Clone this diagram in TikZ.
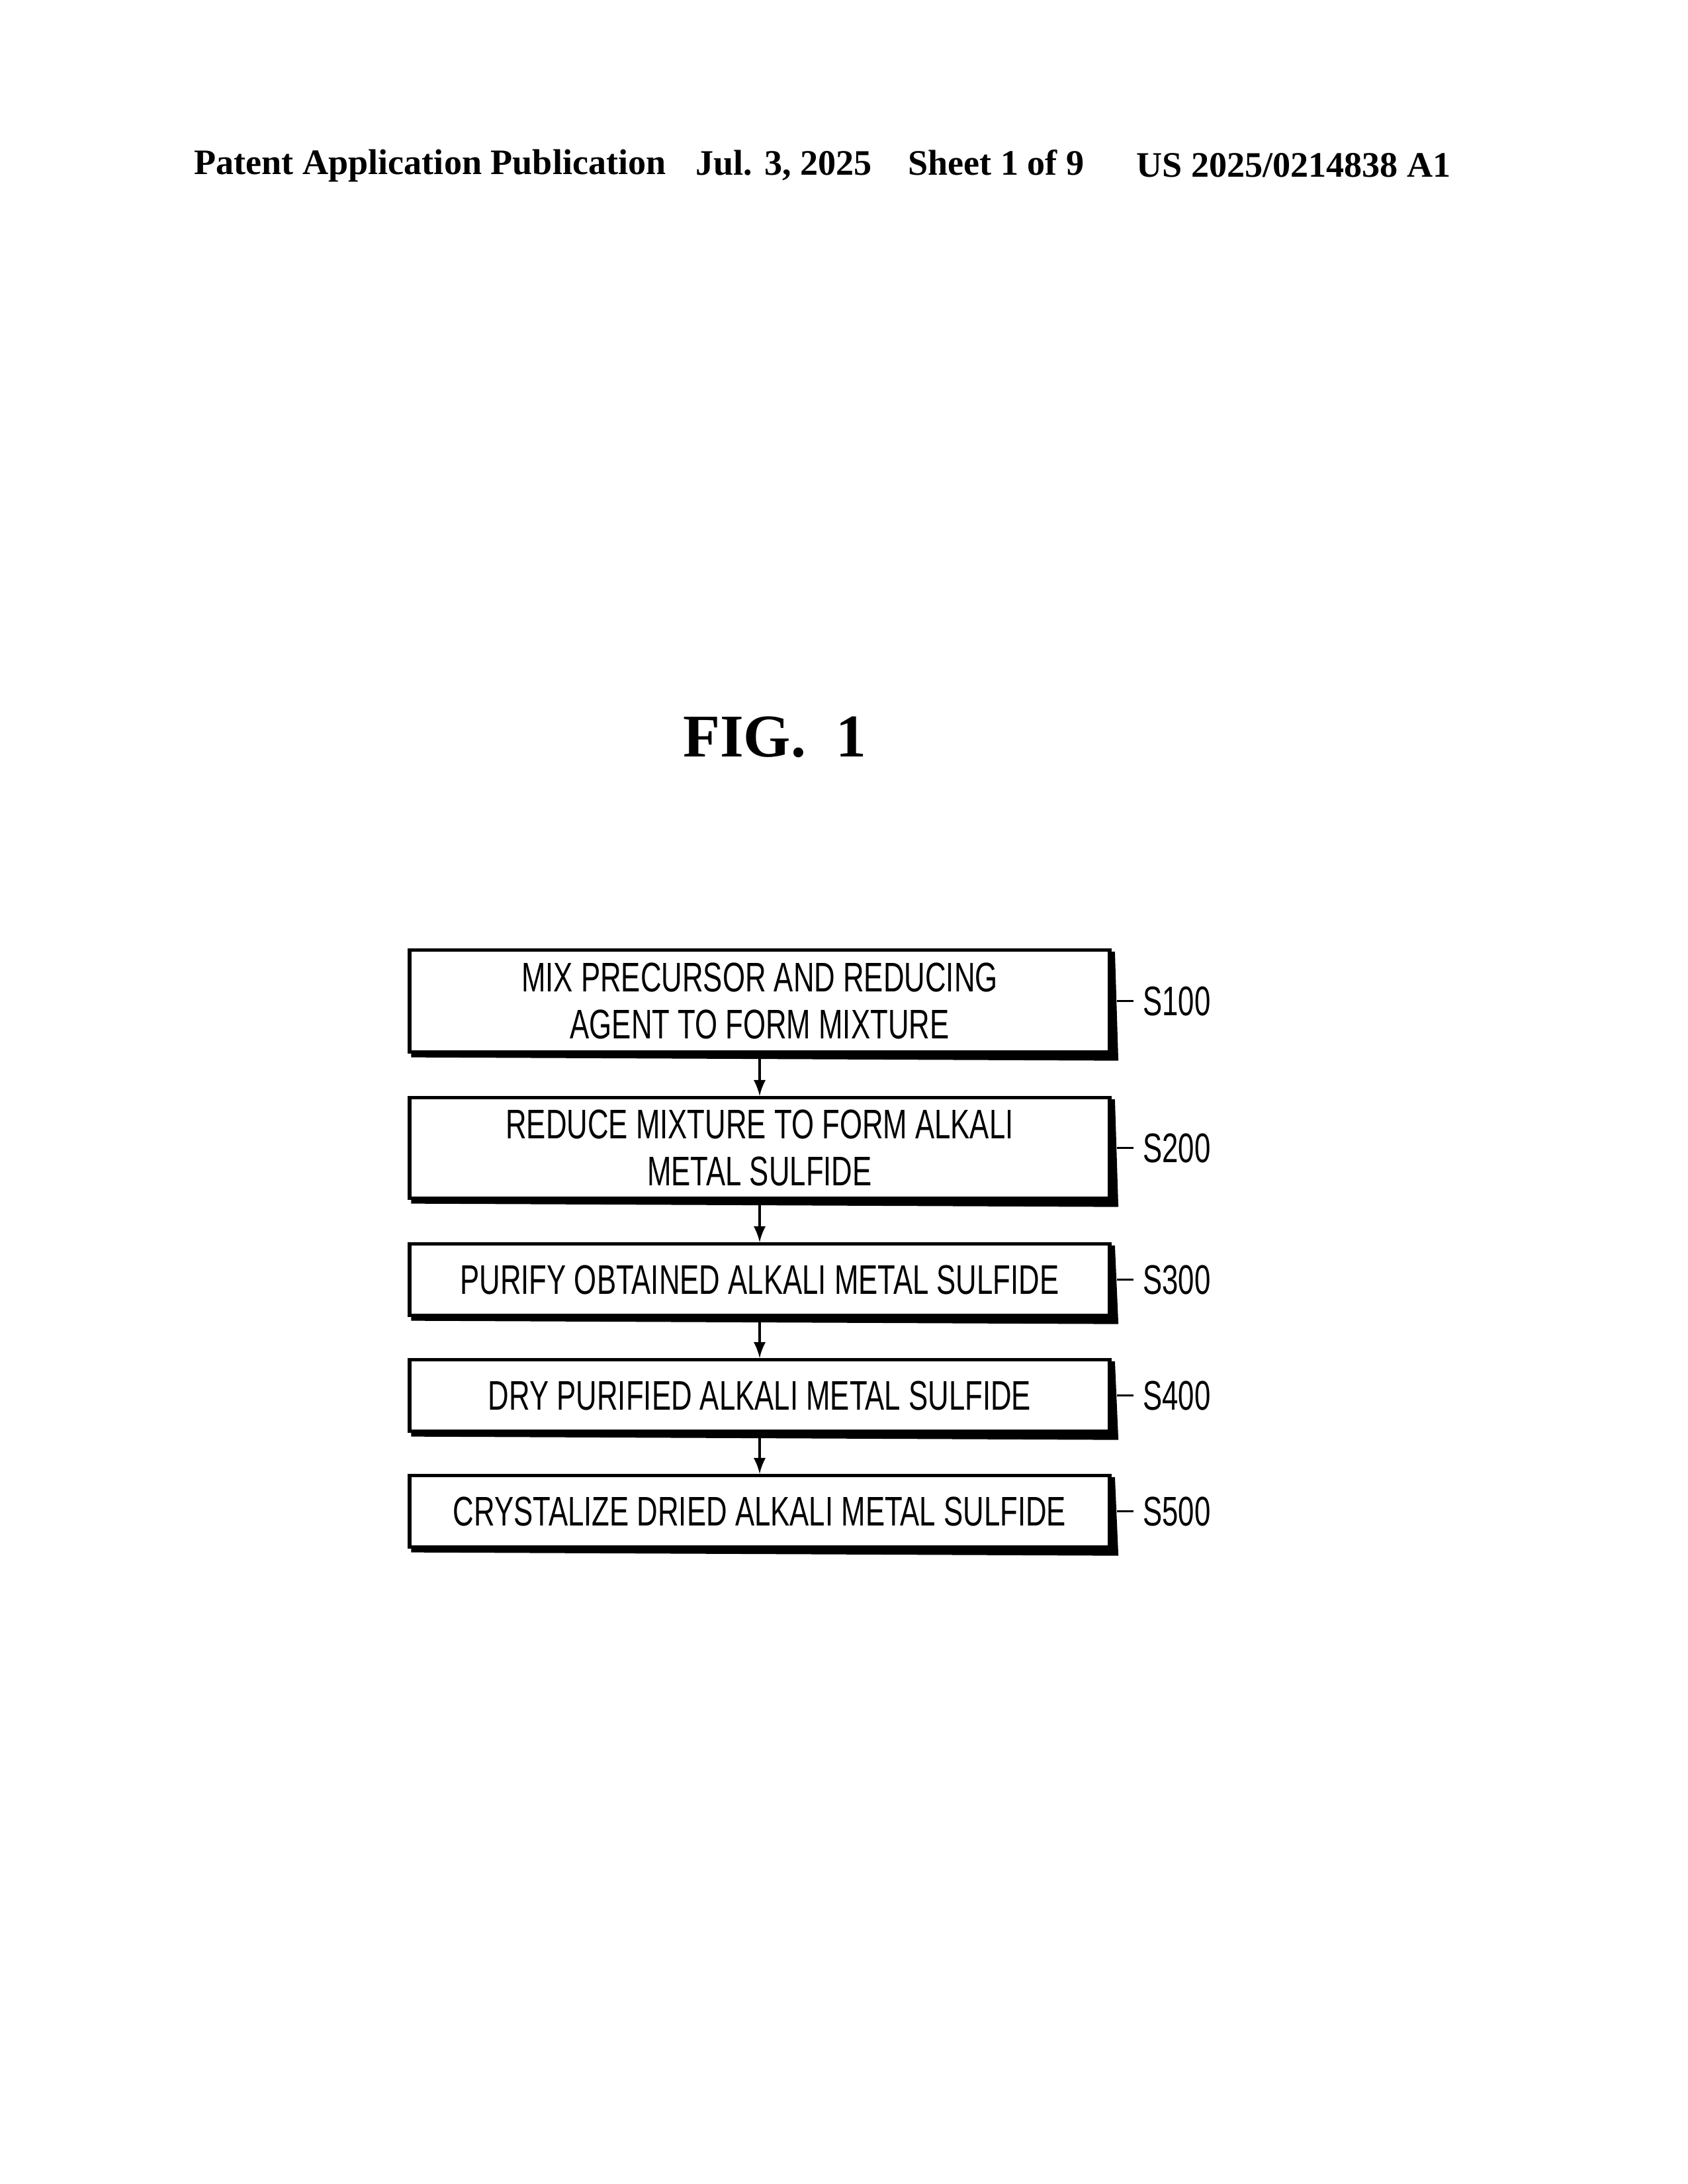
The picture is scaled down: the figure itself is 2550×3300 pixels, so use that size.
\documentclass[tikz,border=0pt]{standalone}
\usepackage{fontspec}
\usepackage{graphicx}
\setmainfont{Liberation Serif}
\newfontfamily\boxfont{Liberation Sans}
\newcommand{\sq}[1]{\scalebox{0.7}[1]{#1}}
\begin{document}
\begin{tikzpicture}[x=0.24pt,y=-0.24pt,
  stepbox/.style={draw,line width=1.3pt,minimum width=1058*0.24pt,anchor=north,inner sep=0pt,font=\boxfont\fontsize{15}{17}\selectfont,align=center},
  lab/.style={font=\boxfont\fontsize{15}{17}\selectfont,anchor=west},
  arr/.style={-latex,line width=1pt}]
\useasboundingbox (0,0) rectangle (2550,3300);
\node[font=\bfseries\fontsize{13}{15}\selectfont] (h1) at (650,250) {Patent Application Publication};
\node[font=\bfseries\fontsize{13}{15}\selectfont] (h2) at (1345,250) {Jul. 3, 2025\quad Sheet 1 of 9};
\node[font=\bfseries\fontsize{13}{15}\selectfont] (h3) at (1955,250) {US 2025/0214838 A1};
\node[font=\bfseries\fontsize{22}{26}\selectfont] (fig) at (1171,1114) {FIG.\ \ 1};
\node[stepbox,minimum height=154*0.24pt] (b1) at (1148,1433) {\sq{MIX PRECURSOR AND REDUCING}\\\sq{AGENT TO FORM MIXTURE}};
\node[stepbox,minimum height=152*0.24pt] (b2) at (1148,1656) {\sq{REDUCE MIXTURE TO FORM ALKALI}\\\sq{METAL SULFIDE}};
\node[stepbox,minimum height=108*0.24pt] (b3) at (1148,1877) {\sq{PURIFY OBTAINED ALKALI METAL SULFIDE}};
\node[stepbox,minimum height=108*0.24pt] (b4) at (1148,2052) {\sq{DRY PURIFIED ALKALI METAL SULFIDE}};
\node[stepbox,minimum height=108*0.24pt] (b5) at (1148,2227) {\sq{CRYSTALIZE DRIED ALKALI METAL SULFIDE}};
\foreach \i in {1,...,5}{
  \draw[line width=2.5pt] ([xshift=1.2pt]b\i.south west) -- ([xshift=1.2pt,yshift=-1.2pt]b\i.south east) -- ([yshift=-1.2pt]b\i.north east);
}
\foreach \a/\b in {b1/b2,b2/b3,b3/b4,b4/b5}{\draw[arr] (\a.south) -- (\b.north);}
\foreach \i/\t in {1/S100,2/S200,3/S300,4/S400,5/S500}{
  \node[lab] (l\i) at ([xshift=33*0.24pt]b\i.east) {\sq{\t}};
  \draw[line width=0.8pt] ([xshift=2pt]b\i.east) -- (l\i.west);
}
\end{tikzpicture}
\end{document}
